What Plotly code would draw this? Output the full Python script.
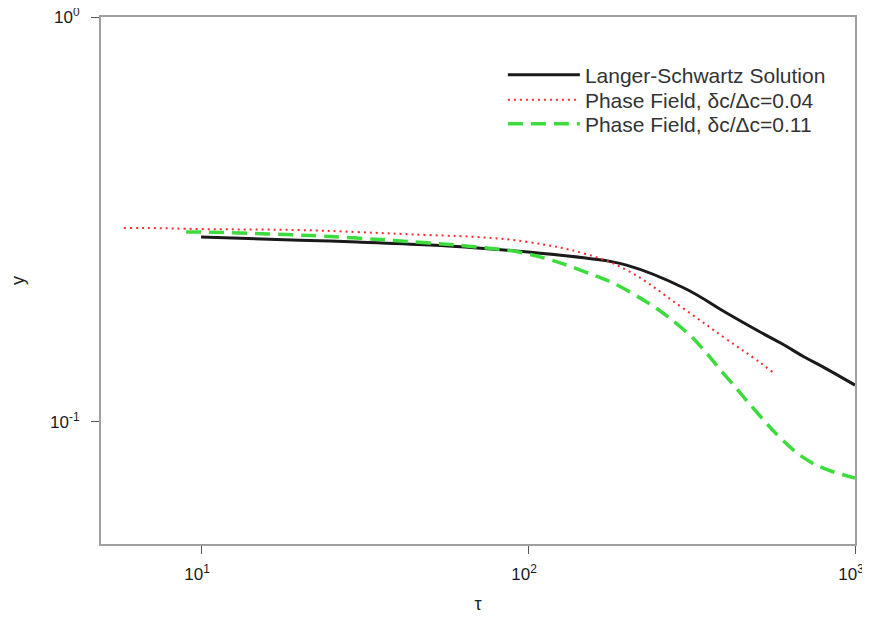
import plotly.graph_objects as go

# Langer-Schwartz solution
ls_tau = [10, 20, 30, 50, 70, 100, 150, 200, 300, 400, 500, 600, 700, 800, 1000]
ls_y = [0.286, 0.281, 0.278, 0.2733, 0.2687, 0.2626, 0.2538, 0.2438, 0.2140,
        0.1867, 0.1685, 0.1556, 0.1445, 0.1365, 0.1232]

# Phase field, dc/Dc = 0.04
pf04_tau = [5.8, 7, 10, 20, 30, 50, 70, 100, 150, 200, 300, 400, 500, 570]
pf04_y = [0.301, 0.301, 0.2993, 0.2976, 0.2942, 0.2892, 0.2860, 0.278, 0.2597,
          0.2371, 0.190, 0.161, 0.1421, 0.1312]

# Phase field, dc/Dc = 0.11
pf11_tau = [9, 10, 20, 30, 50, 70, 100, 150, 200, 300, 400, 500, 600, 700, 800, 1000]
pf11_y = [0.2942, 0.2942, 0.2892, 0.2843, 0.2764, 0.2702, 0.2597, 0.2344, 0.2115,
          0.1685, 0.1304, 0.1057, 0.0901, 0.0813, 0.0768, 0.0726]

x_tickvals = [10, 100, 1000]
x_ticktext = ["10<sup>1</sup>", "10<sup>2</sup>", "10<sup>3</sup>"]
y_tickvals = [0.1, 1]
y_ticktext = ["10<sup>-1</sup>", "10<sup>0</sup>"]

FONT = "Liberation Sans, Arial"

fig = go.Figure()
fig.add_trace(go.Scatter(x=ls_tau, y=ls_y, mode="lines", name="Langer-Schwartz Solution",
                         line=dict(color="#1a1a1a", width=3, shape="spline", smoothing=1.2),
                         legend="legend"))
fig.add_trace(go.Scatter(x=pf04_tau, y=pf04_y, mode="lines", name="Phase Field, δc/Δc=0.04",
                         line=dict(color="#ff2a2a", width=2, dash="2px,4px", shape="spline",
                                   smoothing=1.2),
                         legend="legend2"))
fig.add_trace(go.Scatter(x=pf11_tau, y=pf11_y, mode="lines", name="Phase Field, δc/Δc=0.11",
                         line=dict(color="#3ddc3d", width=3.5, dash="15px,8px", shape="spline",
                                   smoothing=1.2),
                         legend="legend3"))

axis_common = dict(type="log", showgrid=False, zeroline=False, showline=True,
                   linecolor="#a0a0a0", linewidth=2, mirror=True, automargin=False,
                   ticks="outside", ticklen=8, tickcolor="#555", tickwidth=1,
                   ticklabeloverflow="allow",
                   tickfont=dict(family=FONT, size=17, color="#1a1a1a"))

legend_common = dict(x=0.533, xanchor="left", yanchor="middle",
                     bgcolor="rgba(0,0,0,0)", borderwidth=0, itemwidth=72,
                     font=dict(family=FONT, size=21, color="#333"))

fig.update_layout(
    width=862, height=627,
    paper_bgcolor="white", plot_bgcolor="white",
    margin=dict(l=93, r=15, t=9, b=91),
    font=dict(family=FONT, size=17, color="#222"),
    showlegend=True,
    xaxis=dict(range=[0.694, 3], tickvals=x_tickvals, ticktext=x_ticktext,
               ticklabelstandoff=6, ticklabelshift=-4,
               title=dict(text="τ", standoff=14, font=dict(size=18)), **axis_common),
    yaxis=dict(range=[-1.302, 0], tickvals=y_tickvals, ticktext=y_ticktext,
               ticklabelstandoff=8,
               title=dict(text="y", standoff=22, font=dict(size=18)), **axis_common),
    legend=dict(y=0.8899, **legend_common),
    legend2=dict(y=0.8425, **legend_common),
    legend3=dict(y=0.797, **legend_common),
)

fig.write_html("out.html")
